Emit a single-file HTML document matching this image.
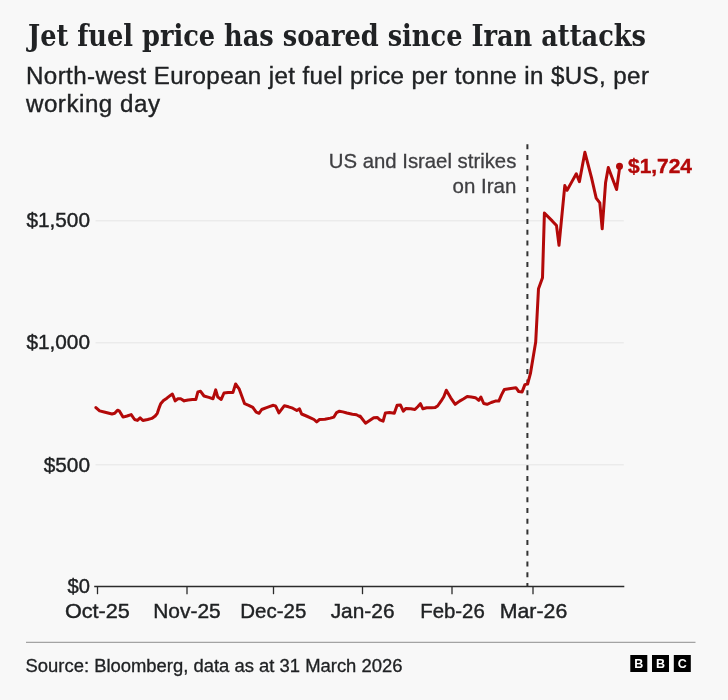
<!DOCTYPE html>
<html lang="en">
<head>
<meta charset="utf-8">
<title>Jet fuel price has soared since Iran attacks</title>
<style>
html,body{margin:0;padding:0;background:#f8f8f8;}
body{width:728px;height:700px;overflow:hidden;font-family:"Liberation Sans",sans-serif;}
svg{display:block;will-change:transform;}
.serif{font-family:"DejaVu Serif Condensed","DejaVu Serif","Liberation Serif",serif;font-weight:bold;}
.sans{font-family:"Liberation Sans",sans-serif;}
.b{font-weight:bold;}
</style>
</head>
<body>
<svg width="728" height="700" viewBox="0 0 728 700">
<rect x="0" y="0" width="728" height="700" fill="#f8f8f8"/>

<!-- headline -->
<text class="serif" x="28" y="46" font-size="30" fill="#202224" textLength="618" lengthAdjust="spacingAndGlyphs">Jet fuel price has soared since Iran attacks</text>

<!-- subtitle -->
<g class="sans" font-size="23" fill="#202224" stroke="#202224" stroke-width="0.35">
<text transform="translate(26 83.6) scale(1.05 1)" textLength="593.3" lengthAdjust="spacing">North-west European jet fuel price per tonne in $US, per</text>
<text transform="translate(26 111.6) scale(1.05 1)" textLength="127.6" lengthAdjust="spacing">working day</text>
</g>

<!-- gridlines -->
<g stroke="#ebebeb" stroke-width="1.6" fill="none">
<line x1="95.5" y1="220.7" x2="623.8" y2="220.7"/>
<line x1="95.5" y1="342.7" x2="623.8" y2="342.7"/>
<line x1="95.5" y1="464.7" x2="623.8" y2="464.7"/>
</g>

<!-- y labels -->
<g class="sans" font-size="20.3" fill="#202224" stroke="#202224" stroke-width="0.4" text-anchor="end">
<text x="90" y="227.1" textLength="63.6" lengthAdjust="spacingAndGlyphs">$1,500</text>
<text x="90" y="349.2" textLength="63.6" lengthAdjust="spacingAndGlyphs">$1,000</text>
<text x="90" y="471.7" textLength="46.3" lengthAdjust="spacingAndGlyphs">$500</text>
<text x="90" y="593.4" textLength="22.4" lengthAdjust="spacingAndGlyphs">$0</text>
</g>

<!-- x axis -->
<g stroke="#2b2b2b" fill="none">
<line x1="94.2" y1="586.4" x2="624.3" y2="586.4" stroke-width="1.5"/>
<g stroke-width="1.3">
<line x1="97.5" y1="586.5" x2="97.5" y2="594.2"/>
<line x1="187" y1="586.5" x2="187" y2="594.2"/>
<line x1="273.5" y1="586.5" x2="273.5" y2="594.2"/>
<line x1="362.5" y1="586.5" x2="362.5" y2="594.2"/>
<line x1="452" y1="586.5" x2="452" y2="594.2"/>
<line x1="533" y1="586.5" x2="533" y2="594.2"/>
</g>
</g>
<g class="sans" font-size="20.3" fill="#202224" stroke="#202224" stroke-width="0.4" text-anchor="middle">
<text x="97.4" y="618.3" textLength="65" lengthAdjust="spacingAndGlyphs">Oct-25</text>
<text x="187" y="618.3" textLength="67.5" lengthAdjust="spacingAndGlyphs">Nov-25</text>
<text x="273.3" y="618.3" textLength="66" lengthAdjust="spacingAndGlyphs">Dec-25</text>
<text x="362.6" y="618.3" textLength="63.8" lengthAdjust="spacingAndGlyphs">Jan-26</text>
<text x="452.5" y="618.3" textLength="64.5" lengthAdjust="spacingAndGlyphs">Feb-26</text>
<text x="533.5" y="618.3" textLength="67.5" lengthAdjust="spacingAndGlyphs">Mar-26</text>
</g>

<!-- annotation -->
<line x1="527.4" y1="144.2" x2="527.4" y2="586" stroke="#333" stroke-width="2" stroke-dasharray="5 5.7"/>
<g class="sans" font-size="20.6" fill="#3f3f42" stroke="#3f3f42" stroke-width="0.3" text-anchor="end">
<text x="516.3" y="168.3" textLength="187.5" lengthAdjust="spacingAndGlyphs">US and Israel strikes</text>
<text x="516.3" y="192.8" textLength="63.8" lengthAdjust="spacingAndGlyphs">on Iran</text>
</g>

<!-- data line -->
<path d="M95.9,407.6 L99.6,410.9 L105.1,412.3 L112.0,414.0 L114.7,413.3 L117.5,410.2 L119.5,411.2 L123.0,417.1 L127.1,416.0 L131.2,414.6 L134.6,419.5 L137.4,420.4 L140.1,417.8 L142.9,420.5 L147.7,419.5 L151.8,418.4 L155.2,416.0 L157.3,413.3 L159.4,407.1 L160.7,403.7 L163.5,400.5 L166.9,398.2 L170.4,395.4 L172.4,394.0 L175.2,400.9 L177.9,398.8 L180.7,398.8 L184.1,400.9 L184.1,400.8 L188.2,400.1 L192.4,399.6 L195.8,399.6 L197.9,391.9 L200.6,391.3 L204.0,396.0 L208.8,397.4 L213.0,398.7 L215.7,389.9 L217.8,397.1 L221.2,399.4 L224.0,393.0 L228.1,392.6 L232.9,392.6 L235.6,384.0 L239.1,388.8 L244.6,403.7 L248.7,405.3 L252.8,407.4 L256.2,412.2 L259.0,413.3 L261.7,409.5 L265.9,407.8 L270.0,406.4 L273.4,405.3 L275.5,406.0 L276.2,407.1 L278.9,412.9 L284.4,405.7 L288.5,406.8 L292.7,408.2 L296.8,410.5 L299.5,408.9 L301.6,414.0 L306.4,416.0 L310.5,417.8 L314.0,419.5 L316.7,421.9 L319.5,419.5 L324.9,419.2 L330.4,418.1 L333.9,417.1 L336.6,412.6 L339.4,411.2 L342.8,411.9 L346.9,413.0 L352.4,414.2 L356.5,414.8 L360.0,416.7 L360.0,416.0 L365.5,423.2 L369.6,420.4 L373.7,417.7 L377.2,417.4 L379.9,419.8 L383.1,421.1 L385.4,412.9 L389.5,412.6 L394.3,413.2 L397.1,405.3 L400.5,405.1 L403.3,411.1 L406.0,408.4 L410.8,408.8 L414.9,409.5 L417.7,406.7 L420.4,403.7 L422.9,408.8 L426.6,407.8 L431.4,407.7 L435.3,407.4 L437.6,406.0 L441.0,401.2 L443.8,396.8 L446.3,390.2 L450.7,397.8 L455.2,404.3 L459.6,401.1 L463.7,398.8 L467.2,396.6 L471.3,397.0 L475.4,397.7 L478.8,400.4 L480.9,397.0 L483.7,403.5 L487.1,404.3 L491.2,402.5 L495.3,401.1 L498.8,401.1 L501.5,394.9 L504.3,389.5 L509.1,388.8 L515.9,387.7 L518.7,391.5 L522.1,391.9 L524.9,384.6 L527.6,384.0 L530.4,373.7 L535.7,342.1 L538.5,288.7 L542.5,277.7 L544.4,213.1 L552.2,220.9 L556.5,225.6 L559.0,245.3 L564.8,185.6 L567.1,190.3 L571.9,181.6 L576.3,173.8 L579.4,181.6 L584.9,152.3 L591.5,177.7 L596.2,198.1 L599.8,202.9 L602.2,228.8 L605.6,182.4 L608.3,167.5 L612.7,179.3 L616.6,189.5 L619.8,166.4" fill="none" stroke="#b30909" stroke-width="3" stroke-linejoin="round" stroke-linecap="round"/>
<circle cx="619.5" cy="166.3" r="3.5" fill="#b30909"/>
<text class="sans b" x="628" y="172.9" font-size="19.3" fill="#b30909" stroke="#b30909" stroke-width="0.4" textLength="64" lengthAdjust="spacingAndGlyphs">$1,724</text>

<!-- footer -->
<line x1="26" y1="642.3" x2="695.5" y2="642.3" stroke="#8e8e8e" stroke-width="1"/>
<text class="sans" x="25.5" y="671.8" font-size="17.5" fill="#202224" stroke="#202224" stroke-width="0.3" textLength="377" lengthAdjust="spacingAndGlyphs">Source: Bloomberg, data as at 31 March 2026</text>

<!-- BBC blocks -->
<g>
<rect x="630.3" y="655" width="17" height="17" fill="#000"/>
<rect x="652" y="655" width="17" height="17" fill="#000"/>
<rect x="673.8" y="655" width="17" height="17" fill="#000"/>
<g class="sans b" font-size="12.5" fill="#fff" text-anchor="middle">
<text x="638.8" y="668">B</text>
<text x="660.5" y="668">B</text>
<text x="682.3" y="668">C</text>
</g>
</g>
</svg>
</body>
</html>
